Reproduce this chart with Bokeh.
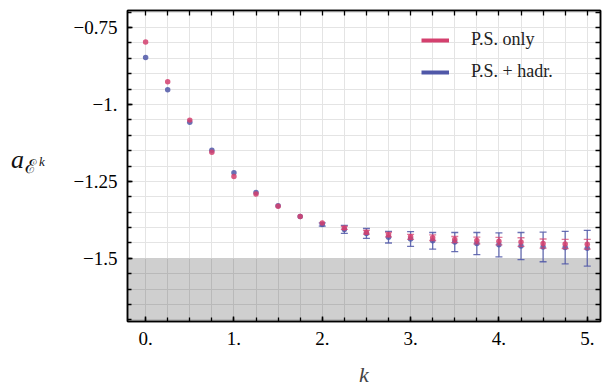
import numpy as np
from bokeh.plotting import figure
from bokeh.layouts import row
from bokeh.models import (ColumnDataSource, FixedTicker, BoxAnnotation, Legend,
                          LegendItem, LinearAxis, Range1d, Grid, Div)
from bokeh.embed import file_html
from bokeh.resources import INLINE

# ---------------- data ----------------
k = [0.0, 0.25, 0.5, 0.75, 1.0, 1.25, 1.5, 1.75, 2.0, 2.25, 2.5, 2.75,
     3.0, 3.25, 3.5, 3.75, 4.0, 4.25, 4.5, 4.75, 5.0]
ps_only = [-0.797, -0.926, -1.051, -1.155, -1.234, -1.291, -1.331, -1.364,
           -1.385, -1.401, -1.415, -1.423, -1.430, -1.433, -1.439, -1.442,
           -1.444, -1.447, -1.452, -1.453, -1.454]
ps_only_err = [0.0, 0.0, 0.0, 0.0, 0.0, 0.0, 0.0, 0.0, 0.0, 0.005, 0.006,
               0.007, 0.008, 0.009, 0.010, 0.011, 0.012, 0.014, 0.015, 0.015,
               0.016]
ps_hadr = [-0.848, -0.952, -1.058, -1.149, -1.222, -1.286, -1.329, -1.364,
           -1.390, -1.406, -1.419, -1.431, -1.437, -1.443, -1.447, -1.452,
           -1.456, -1.460, -1.463, -1.465, -1.467]
ps_hadr_err = [0.0, 0.0, 0.0, 0.0, 0.0, 0.0, 0.0, 0.0, 0.005, 0.013, 0.016,
               0.019, 0.024, 0.027, 0.031, 0.036, 0.039, 0.044, 0.048, 0.053,
               0.058]
series_names = ["P.S. only", "P.S. + hadr."]
x_ticks = [0, 1, 2, 3, 4, 5]
x_tick_labels = ["0.", "1.", "2.", "3.", "4.", "5."]
y_ticks = [-1.5, -1.25, -1.0, -0.75]
y_tick_labels = ["\u22121.5", "\u22121.25", "\u22121.", "\u22120.75"]
bound = -1.5

RED = "#d4406e"
BLUE = "#5058a8"
FONT = "Liberation Serif"
DIV_W = 62

def srcs(vals, errs):
    v = np.array(vals); e = np.array(errs); kk = np.array(k)
    pts = ColumnDataSource(dict(k=kk, y=v))
    m = e > 0
    bars = ColumnDataSource(dict(k=kk[m], up=(v + e)[m], lo=(v - e)[m]))
    return pts, bars

red_pts, red_bars = srcs(ps_only, ps_only_err)
blue_pts, blue_bars = srcs(ps_hadr, ps_hadr_err)

p = figure(width=605 - DIV_W, height=392, output_backend="svg", toolbar_location=None,
           x_range=Range1d(-0.205, 5.15), y_range=Range1d(-1.705, -0.695),
           min_border_left=127 - DIV_W, min_border_right=5, min_border_top=10,
           min_border_bottom=71, x_axis_type=None, y_axis_type=None)
p.outline_line_color = "black"
p.outline_line_width = 1.5

minor_x = list(np.arange(-0.25, 5.3, 0.25))
minor_y = list(np.round(np.arange(-1.75, -0.65, 0.05), 3))

def make_axis(loc, ticks, labels, minor, show_labels):
    if show_labels:
        ax = LinearAxis(ticker=FixedTicker(ticks=ticks, minor_ticks=minor))
    else:
        ax = LinearAxis(ticker=FixedTicker(ticks=[], minor_ticks=minor))
    ax.axis_line_color = "black"
    ax.axis_line_width = 1.5
    ax.major_tick_in = 5
    ax.major_tick_out = 0
    ax.minor_tick_in = 5 if not show_labels else 4
    ax.minor_tick_out = 0
    ax.major_tick_line_width = 1.5
    ax.minor_tick_line_width = 1.3
    ax.major_tick_line_color = "black"
    ax.minor_tick_line_color = "black"
    if show_labels:
        ax.major_label_overrides = {t: l for t, l in zip(ticks, labels)}
        ax.major_label_text_font = FONT
        ax.major_label_text_font_size = "19px"
        ax.major_label_text_color = "black"
        ax.major_label_standoff = 10
    else:
        ax.major_label_standoff = 0
    p.add_layout(ax, loc)
    return ax

xb = make_axis("below", x_ticks, x_tick_labels, minor_x, True)
xb.axis_label = "k"
xb.axis_label_text_font = FONT
xb.axis_label_text_font_style = "italic"
xb.axis_label_text_font_size = "22px"
xb.axis_label_standoff = 14
make_axis("above", x_ticks, x_tick_labels, minor_x, False)
make_axis("left", y_ticks, y_tick_labels, minor_y, True)
make_axis("right", y_ticks, y_tick_labels, minor_y, False)

# grid
p.add_layout(Grid(dimension=0, ticker=FixedTicker(ticks=minor_x),
                  grid_line_color="#e4e4e4", grid_line_width=1), "center")
p.add_layout(Grid(dimension=1, ticker=FixedTicker(ticks=minor_y),
                  grid_line_color="#e4e4e4", grid_line_width=1), "center")

p.add_layout(BoxAnnotation(top=bound, fill_color="black", fill_alpha=0.19,
                           line_color=None, level="underlay"))

def draw(pts, bars, color, bar_alpha):
    p.segment(x0="k", y0="lo", x1="k", y1="up", source=bars, line_color=color,
              line_width=1.3, line_alpha=bar_alpha)
    p.scatter(x="k", y="up", source=bars, marker="dash", size=7, line_color=color,
              line_width=1.3, line_alpha=bar_alpha)
    p.scatter(x="k", y="lo", source=bars, marker="dash", size=7, line_color=color,
              line_width=1.3, line_alpha=bar_alpha)
    p.scatter(x="k", y="y", source=pts, size=5.5, fill_color=color, line_color=None,
              fill_alpha=0.85)

draw(blue_pts, blue_bars, BLUE, 0.85)
draw(red_pts, red_bars, RED, 0.7)

# legend with line glyphs
lr = p.line([np.nan, np.nan], [np.nan, np.nan], line_color=RED, line_width=4)
lb = p.line([np.nan, np.nan], [np.nan, np.nan], line_color=BLUE, line_width=4)
legend = Legend(items=[LegendItem(label=series_names[0], renderers=[lr]),
                       LegendItem(label=series_names[1], renderers=[lb])],
                location=(294, 239), padding=0, margin=0, spacing=11,
                glyph_width=28, glyph_height=20, label_height=20,
                label_standoff=22, label_text_font=FONT,
                label_text_font_size="18px", label_text_color="#222222",
                background_fill_alpha=0, border_line_color=None)
p.add_layout(legend, "center")

# y-axis label a_{E^k} as real HTML text
ylabel_html = (
    '<div style="position:relative;width:%dpx;height:392px;color:#111;">'
    '<span style="position:absolute;left:11px;top:147px;line-height:1;'
    "font-family:'Liberation Serif';font-style:italic;font-size:26px;\">a</span>"
    '<span style="position:absolute;left:25px;top:157px;line-height:1;'
    "font-family:'DejaVu Serif';font-size:19px;\">\u2130</span>"
    '<span style="position:absolute;left:39px;top:155px;line-height:1;'
    "font-family:'Liberation Serif';font-style:italic;font-size:13px;\">k</span>"
    '</div>' % DIV_W
)
ylabel = Div(text=ylabel_html, width=DIV_W, height=392,
             styles={"margin": "0", "padding": "0"})

layout = row(ylabel, p, spacing=0)
open("out.html", "w").write(file_html(layout, INLINE))
